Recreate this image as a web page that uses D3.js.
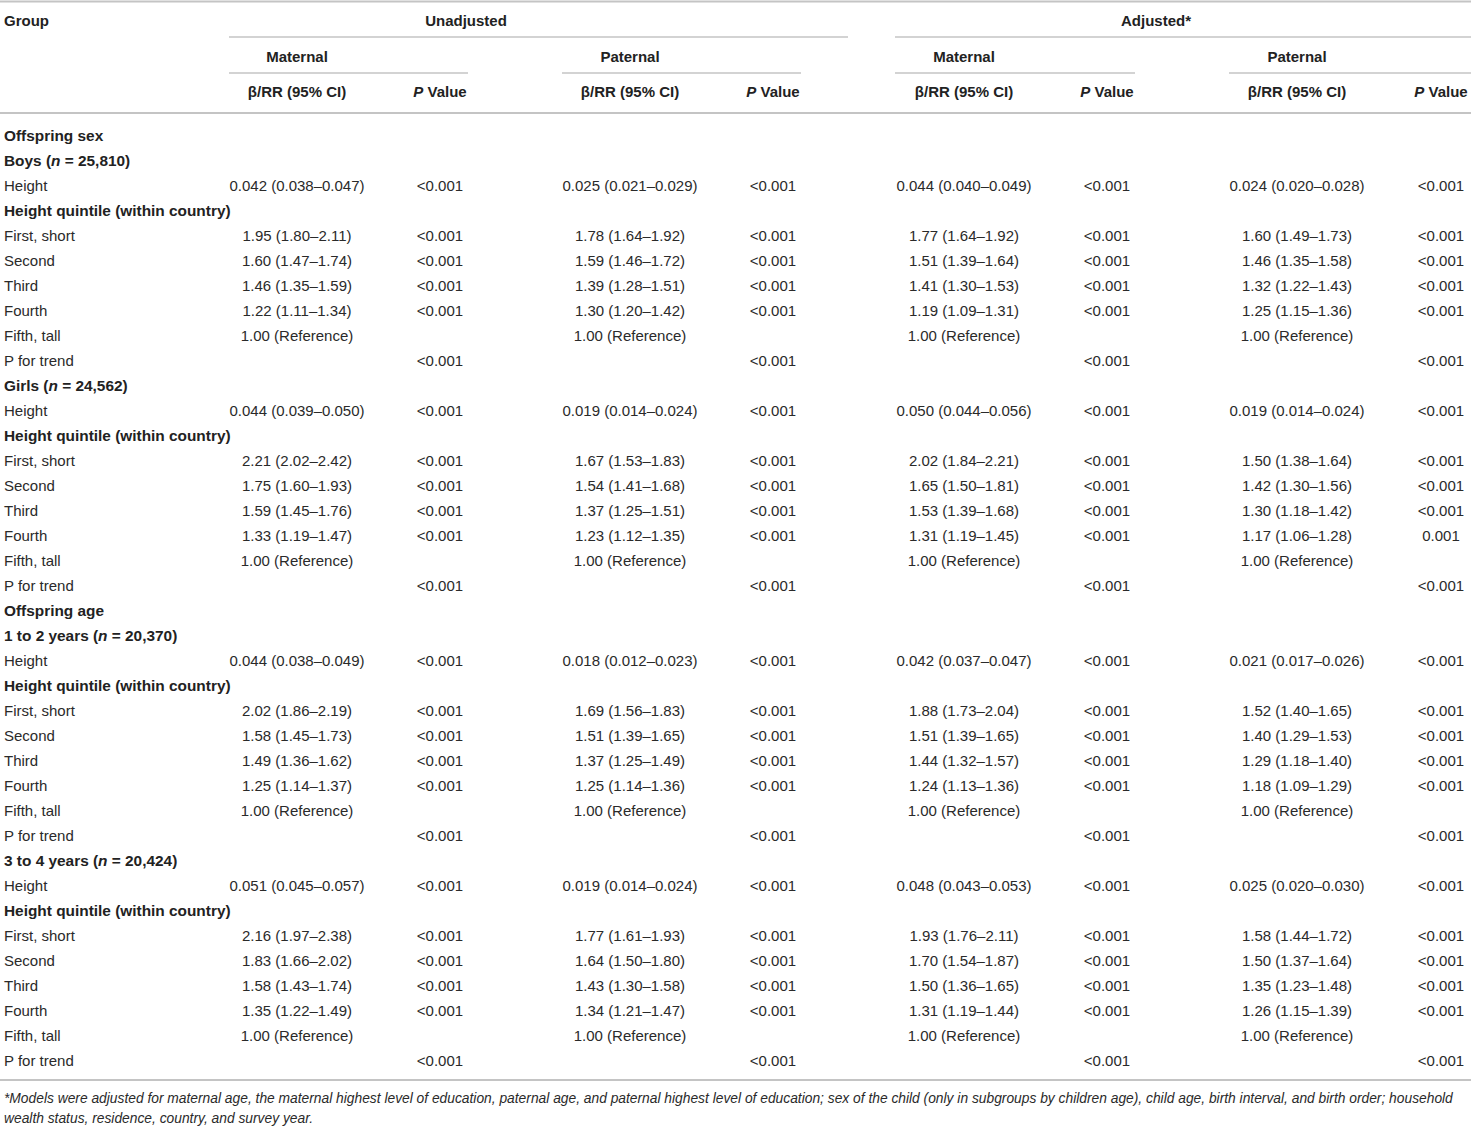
<!DOCTYPE html>
<html>
<head>
<meta charset="utf-8">
<script src="https://cdn.jsdelivr.net/npm/d3@7"></script>
<style>
  body { margin: 0; background: #fff; }
  svg { display: block; }
</style>
</head>
<body>
<svg width="1471" height="1129"></svg>
<script>
const width = 1471, height = 1129;

// row labels and kind (1 = bold header row)
const rowLabels = [
  "Offspring sex", "Boys (n = 25,810)", "Height", "Height quintile (within country)",
  "First, short", "Second", "Third", "Fourth", "Fifth, tall", "P for trend",
  "Girls (n = 24,562)", "Height", "Height quintile (within country)",
  "First, short", "Second", "Third", "Fourth", "Fifth, tall", "P for trend",
  "Offspring age", "1 to 2 years (n = 20,370)", "Height", "Height quintile (within country)",
  "First, short", "Second", "Third", "Fourth", "Fifth, tall", "P for trend",
  "3 to 4 years (n = 20,424)", "Height", "Height quintile (within country)",
  "First, short", "Second", "Third", "Fourth", "Fifth, tall", "P for trend"
];
const rowBold = [
  1, 1, 0, 1, 0, 0, 0, 0, 0, 0,
  1, 0, 1, 0, 0, 0, 0, 0, 0,
  1, 1, 0, 1, 0, 0, 0, 0, 0, 0,
  1, 0, 1, 0, 0, 0, 0, 0, 0
];

const R = "1.00 (Reference)", L = "<0.001";

const unadjMaternal = [
  "", "", "0.042 (0.038–0.047)", "", "1.95 (1.80–2.11)", "1.60 (1.47–1.74)", "1.46 (1.35–1.59)", "1.22 (1.11–1.34)", R, "",
  "", "0.044 (0.039–0.050)", "", "2.21 (2.02–2.42)", "1.75 (1.60–1.93)", "1.59 (1.45–1.76)", "1.33 (1.19–1.47)", R, "",
  "", "", "0.044 (0.038–0.049)", "", "2.02 (1.86–2.19)", "1.58 (1.45–1.73)", "1.49 (1.36–1.62)", "1.25 (1.14–1.37)", R, "",
  "", "0.051 (0.045–0.057)", "", "2.16 (1.97–2.38)", "1.83 (1.66–2.02)", "1.58 (1.43–1.74)", "1.35 (1.22–1.49)", R, ""
];
const unadjPaternal = [
  "", "", "0.025 (0.021–0.029)", "", "1.78 (1.64–1.92)", "1.59 (1.46–1.72)", "1.39 (1.28–1.51)", "1.30 (1.20–1.42)", R, "",
  "", "0.019 (0.014–0.024)", "", "1.67 (1.53–1.83)", "1.54 (1.41–1.68)", "1.37 (1.25–1.51)", "1.23 (1.12–1.35)", R, "",
  "", "", "0.018 (0.012–0.023)", "", "1.69 (1.56–1.83)", "1.51 (1.39–1.65)", "1.37 (1.25–1.49)", "1.25 (1.14–1.36)", R, "",
  "", "0.019 (0.014–0.024)", "", "1.77 (1.61–1.93)", "1.64 (1.50–1.80)", "1.43 (1.30–1.58)", "1.34 (1.21–1.47)", R, ""
];
const adjMaternal = [
  "", "", "0.044 (0.040–0.049)", "", "1.77 (1.64–1.92)", "1.51 (1.39–1.64)", "1.41 (1.30–1.53)", "1.19 (1.09–1.31)", R, "",
  "", "0.050 (0.044–0.056)", "", "2.02 (1.84–2.21)", "1.65 (1.50–1.81)", "1.53 (1.39–1.68)", "1.31 (1.19–1.45)", R, "",
  "", "", "0.042 (0.037–0.047)", "", "1.88 (1.73–2.04)", "1.51 (1.39–1.65)", "1.44 (1.32–1.57)", "1.24 (1.13–1.36)", R, "",
  "", "0.048 (0.043–0.053)", "", "1.93 (1.76–2.11)", "1.70 (1.54–1.87)", "1.50 (1.36–1.65)", "1.31 (1.19–1.44)", R, ""
];
const adjPaternal = [
  "", "", "0.024 (0.020–0.028)", "", "1.60 (1.49–1.73)", "1.46 (1.35–1.58)", "1.32 (1.22–1.43)", "1.25 (1.15–1.36)", R, "",
  "", "0.019 (0.014–0.024)", "", "1.50 (1.38–1.64)", "1.42 (1.30–1.56)", "1.30 (1.18–1.42)", "1.17 (1.06–1.28)", R, "",
  "", "", "0.021 (0.017–0.026)", "", "1.52 (1.40–1.65)", "1.40 (1.29–1.53)", "1.29 (1.18–1.40)", "1.18 (1.09–1.29)", R, "",
  "", "0.025 (0.020–0.030)", "", "1.58 (1.44–1.72)", "1.50 (1.37–1.64)", "1.35 (1.23–1.48)", "1.26 (1.15–1.39)", R, ""
];
// P values (same in the three columns except the adjusted paternal one)
const pCommon = [
  "", "", L, "", L, L, L, L, "", L,
  "", L, "", L, L, L, L, "", L,
  "", "", L, "", L, L, L, L, "", L,
  "", L, "", L, L, L, L, "", L
];
const pAdjPaternal = [
  "", "", L, "", L, L, L, L, "", L,
  "", L, "", L, L, L, "0.001", "", L,
  "", "", L, "", L, L, L, L, "", L,
  "", L, "", L, L, L, L, "", L
];

const groups = ["Unadjusted", "Adjusted*"];
const parents = ["Maternal", "Paternal"];
const columns = [
  {est: unadjMaternal, p: pCommon},
  {est: unadjPaternal, p: pCommon},
  {est: adjMaternal, p: pCommon},
  {est: adjPaternal, p: pAdjPaternal}
];

const footnote = [
  "*Models were adjusted for maternal age, the maternal highest level of education, paternal age, and paternal highest level of education; sex of the child (only in subgroups by children age), child age, birth interval, and birth order; household",
  "wealth status, residence, country, and survey year."
];

const font = "'Liberation Sans', Arial, Helvetica, sans-serif";
const textColor = "#2a2a2a";
const lineColor = "#c4c4c4";

const svg = d3.select("svg").attr("font-family", font).attr("fill", textColor);

// column positions
const estX = d3.scaleOrdinal().domain([0, 1, 2, 3]).range([297, 630, 964, 1297]);
const pX = d3.scaleOrdinal().domain([0, 1, 2, 3]).range([440, 773, 1107, 1441]);
const lineL = d3.scaleOrdinal().domain([0, 1, 2, 3]).range([229, 562, 895, 1229]);
const lineR = d3.scaleOrdinal().domain([0, 1, 2, 3]).range([468, 801, 1135, 1471]);
const groupX = d3.scaleOrdinal().domain(groups).range([466, 1156]);
const groupLine = d3.scaleOrdinal().domain(groups).range([[229, 848], [895, 1471]]);

// rows
const y = d3.scaleLinear().domain([0, rowLabels.length - 1]).range([135, 1060]);

function hline(x1, x2, yy, w) {
  svg.append("line")
    .attr("x1", x1).attr("x2", x2).attr("y1", yy).attr("y2", yy)
    .attr("stroke", lineColor).attr("stroke-width", w || 1.5);
}

// rules
hline(0, width, 1.5, 2);
hline(0, width, 113, 2);
hline(0, width, 1080, 2);
groups.forEach(g => hline(groupLine(g)[0], groupLine(g)[1], 37));
d3.range(4).forEach(i => hline(lineL(i), lineR(i), 73));

// header text
const head = svg.append("g").attr("font-weight", "bold").attr("font-size", 15)
  .attr("dominant-baseline", "central").attr("fill", "#222");
head.append("text").attr("x", 4).attr("y", 20).text("Group");
head.selectAll(".grp").data(groups).join("text")
  .attr("x", d => groupX(d)).attr("y", 20).attr("text-anchor", "middle").text(d => d);
d3.range(4).forEach(i => {
  head.append("text").attr("x", estX(i)).attr("y", 56).attr("text-anchor", "middle")
    .text(parents[i % 2]);
  head.append("text").attr("x", estX(i)).attr("y", 91).attr("text-anchor", "middle")
    .text("β/RR (95% CI)");
  const t = head.append("text").attr("x", pX(i)).attr("y", 91).attr("text-anchor", "middle");
  t.append("tspan").attr("font-style", "italic").text("P");
  t.append("tspan").text(" Value");
});

// row labels
const body = svg.append("g").attr("font-size", 15).attr("dominant-baseline", "central");
body.selectAll(".lab").data(rowLabels).join("text")
  .attr("class", "lab")
  .attr("x", 4).attr("y", (d, i) => y(i))
  .attr("font-weight", (d, i) => rowBold[i] ? "bold" : null)
  .attr("font-size", (d, i) => rowBold[i] ? 15.4 : null)
  .attr("fill", (d, i) => rowBold[i] ? "#222" : null)
  .each(function(d) {
    const t = d3.select(this);
    const k = d.indexOf("(n =");
    if (k < 0) { t.text(d); return; }
    t.append("tspan").text(d.slice(0, k + 1));
    t.append("tspan").attr("font-style", "italic").text("n");
    t.append("tspan").text(d.slice(k + 2));
  });

// values
columns.forEach((c, ci) => {
  body.selectAll(".est" + ci).data(c.est).join("text")
    .attr("x", estX(ci)).attr("y", (d, i) => y(i))
    .attr("text-anchor", "middle").text(d => d);
  body.selectAll(".p" + ci).data(c.p).join("text")
    .attr("x", pX(ci)).attr("y", (d, i) => y(i))
    .attr("text-anchor", "middle").text(d => d);
});

// footnote
svg.append("g").attr("font-size", 13.8).attr("font-style", "italic")
  .attr("dominant-baseline", "central")
  .selectAll("text").data(footnote).join("text")
  .attr("x", 4).attr("y", (d, i) => 1098 + i * 20).text(d => d);
</script>
</body>
</html>
